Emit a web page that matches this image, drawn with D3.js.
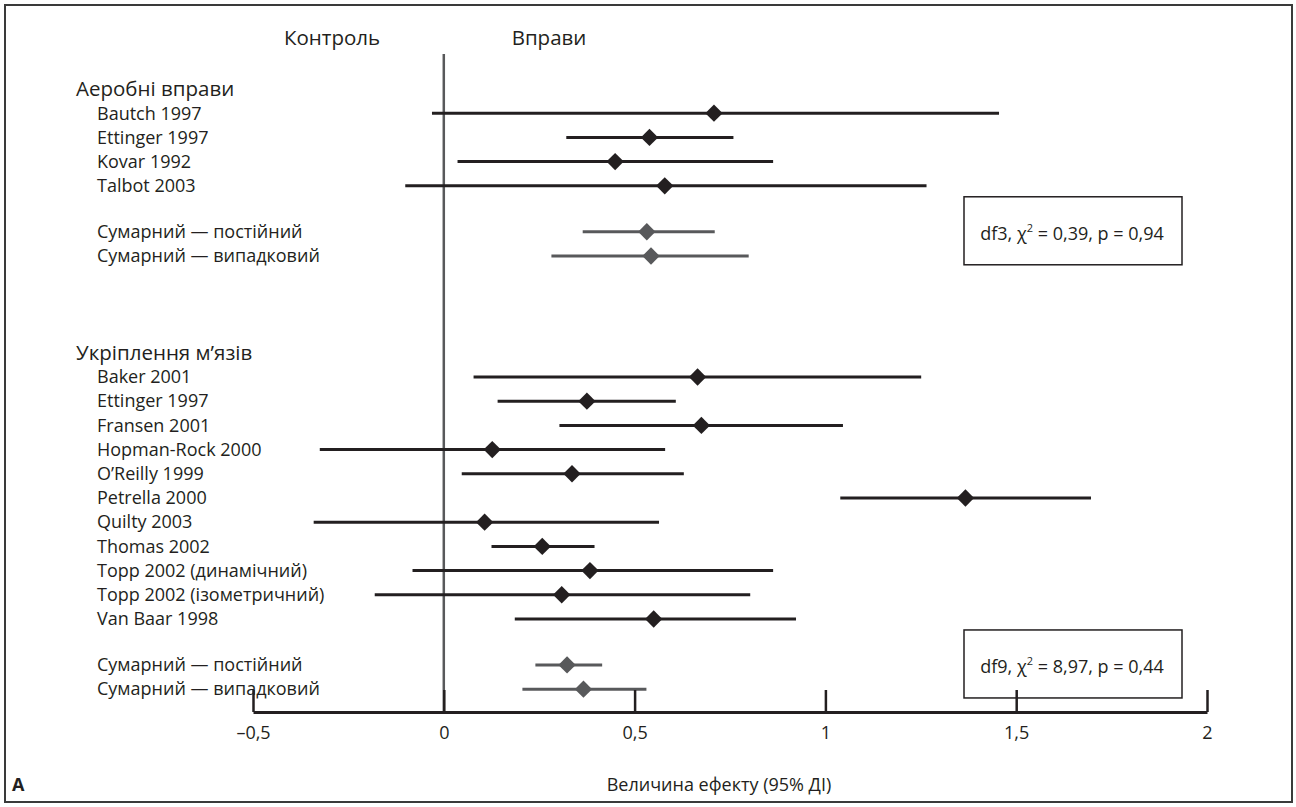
<!DOCTYPE html>
<html>
<head>
<meta charset="utf-8">
<script src="https://cdn.jsdelivr.net/npm/d3@7"></script>
<style>
  body { margin: 0; background: #fff; }
  text { font-family: "Open Sans", "Noto Sans", sans-serif; fill: #231f20; }
  .row_labels { font-size: 18px; }
  .group_labels { font-size: 20.5px; }
  .side_labels { font-size: 20.5px; text-anchor: middle; }
  .stat_labels { font-size: 18px; text-anchor: middle; }
  .axis text { font-size: 18px; font-family: "Open Sans", sans-serif; fill: #231f20; }
</style>
</head>
<body>
<svg id="svg-forest" width="1296" height="807"></svg>
<script>
var black = "#231f20";
var grey = "#58595b";

// data
var groupTitles = ["Аеробні вправи", "Укріплення м\u2019язів"];
var aerobicStudies = ["Bautch 1997", "Ettinger 1997", "Kovar 1992", "Talbot 2003"];
var aerobicEst = [0.708, 0.539, 0.449, 0.579];
var aerobicLo = [-0.031, 0.321, 0.036, -0.101];
var aerobicHi = [1.455, 0.759, 0.863, 1.265];
var strengthStudies = ["Baker 2001", "Ettinger 1997", "Fransen 2001", "Hopman-Rock 2000", "O\u2019Reilly 1999",
                       "Petrella 2000", "Quilty 2003", "Thomas 2002", "Topp 2002 (динамічний)",
                       "Topp 2002 (ізометричний)", "Van Baar 1998"];
var strengthEst = [0.665, 0.375, 0.675, 0.127, 0.336, 1.367, 0.107, 0.258, 0.383, 0.309, 0.550];
var strengthLo = [0.078, 0.141, 0.303, -0.325, 0.047, 1.039, -0.341, 0.125, -0.082, -0.181, 0.186];
var strengthHi = [1.251, 0.608, 1.046, 0.580, 0.629, 1.696, 0.564, 0.395, 0.863, 0.803, 0.923];
var pooledLabels = ["Сумарний — постійний", "Сумарний — випадковий"];
var aerobicPooledEst = [0.532, 0.543];
var aerobicPooledLo = [0.364, 0.282];
var aerobicPooledHi = [0.710, 0.799];
var strengthPooledEst = [0.323, 0.366];
var strengthPooledLo = [0.240, 0.206];
var strengthPooledHi = [0.415, 0.531];
var hetDf = ["df3", "df9"];
var hetChi = ["0,39", "8,97"];
var hetP = ["0,94", "0,44"];
var xTicks = [-0.5, 0, 0.5, 1, 1.5, 2];

var groups = [
  {title: groupTitles[0], names: aerobicStudies, est: aerobicEst, lo: aerobicLo, hi: aerobicHi,
   pEst: aerobicPooledEst, pLo: aerobicPooledLo, pHi: aerobicPooledHi},
  {title: groupTitles[1], names: strengthStudies, est: strengthEst, lo: strengthLo, hi: strengthHi,
   pEst: strengthPooledEst, pLo: strengthPooledLo, pHi: strengthPooledHi}
];

// lay rows out on a running slot counter
var headings = [], studies = [], pooled = [], statSlots = [];
var slot = 0;
groups.forEach(function(g, gi) {
  headings.push({label: g.title, slot: slot});
  g.names.forEach(function(n, i) {
    slot += 1;
    studies.push({label: n, slot: slot, est: g.est[i], lo: g.lo[i], hi: g.hi[i]});
  });
  slot += 0.9;
  statSlots.push({slot: slot + 1, df: hetDf[gi], chi: hetChi[gi], p: hetP[gi]});
  g.pEst.forEach(function(e, i) {
    slot += 1;
    pooled.push({label: pooledLabels[i], slot: slot, est: e, lo: g.pLo[i], hi: g.pHi[i]});
  });
  slot += 4;
});
var lastSlot = slot - 4;

var svg = d3.select("#svg-forest");
var xScale = d3.scaleLinear().domain([-0.5, 2]).range([253, 1207]);
var yScale = d3.scaleLinear().domain([0, lastSlot]).range([89, 89 + lastSlot * 24.2]);
var axisY = 712;
var diamond = d3.symbol().type(d3.symbolSquare).size(150);

// outer frame
svg.append("rect")
    .attr("x", 5).attr("y", 5)
    .attr("width", 1287).attr("height", 797)
    .style("fill", "none")
    .style("stroke", "#3a3a3a")
    .style("stroke-width", 2);

// zero line
svg.append("line")
    .attr("x1", xScale(0)).attr("x2", xScale(0))
    .attr("y1", 54).attr("y2", axisY)
    .style("stroke", grey)
    .style("stroke-width", 2.5);

svg.append("text").attr("class", "side_labels")
    .attr("x", 332).attr("y", 45).text("Контроль");
svg.append("text").attr("class", "side_labels")
    .attr("x", 549).attr("y", 45).text("Вправи");

svg.selectAll("group_labels")
    .data(headings)
    .enter()
    .append("text")
    .attr("class", "group_labels")
    .attr("x", 76)
    .attr("y", function(d) { return yScale(d.slot); })
    .attr("dy", "0.35em")
    .text(function(d) { return d.label; });

svg.selectAll("row_labels")
    .data(studies.concat(pooled))
    .enter()
    .append("text")
    .attr("class", "row_labels")
    .attr("x", 97)
    .attr("y", function(d) { return yScale(d.slot); })
    .attr("dy", "0.35em")
    .text(function(d) { return d.label; });

function drawCI(data, colour, cls) {
  svg.selectAll(cls + "_lines")
      .data(data)
      .enter()
      .append("line")
      .attr("x1", function(d) { return xScale(d.lo); })
      .attr("x2", function(d) { return xScale(d.hi); })
      .attr("y1", function(d) { return yScale(d.slot); })
      .attr("y2", function(d) { return yScale(d.slot); })
      .style("stroke", colour)
      .style("stroke-width", 3);
  svg.selectAll(cls + "_dots")
      .data(data)
      .enter()
      .append("path")
      .attr("d", diamond)
      .attr("transform", function(d) {
        return "translate(" + xScale(d.est) + "," + yScale(d.slot) + ") rotate(45)";
      })
      .style("fill", colour);
}
drawCI(studies, black, "study");
drawCI(pooled, grey, "pooled");

// heterogeneity boxes, centred on the first pooled row
svg.selectAll("stat_boxes")
    .data(statSlots)
    .enter()
    .append("rect")
    .attr("x", 964)
    .attr("y", function(d) { return yScale(d.slot) - 35; })
    .attr("width", 218)
    .attr("height", 68)
    .style("fill", "none")
    .style("stroke", black)
    .style("stroke-width", 1.5);
var stat = svg.selectAll("stat_labels")
    .data(statSlots)
    .enter()
    .append("text")
    .attr("class", "stat_labels")
    .attr("x", 1072)
    .attr("y", function(d) { return yScale(d.slot) + 8; });
stat.append("tspan").text(function(d) { return d.df + ", \u03c7"; });
stat.append("tspan").attr("dy", -8).style("font-size", "11px").text("2");
stat.append("tspan").attr("dy", 8).text(function(d) { return " = " + d.chi + ", p = " + d.p; });

// x axis with upward ticks
var xAxis = d3.axisBottom(xScale)
    .tickValues(xTicks)
    .tickSizeInner(-22)
    .tickSizeOuter(0)
    .tickPadding(14)
    .tickFormat(function(d) { return String(d).replace(".", ",").replace("-", "\u2013"); });
var gAxis = svg.append("g")
    .attr("class", "axis")
    .attr("transform", "translate(0," + axisY + ")")
    .call(xAxis);
gAxis.select(".domain").style("stroke", black).style("stroke-width", 3);
gAxis.selectAll(".tick line").style("stroke", black).style("stroke-width", 2.5);

svg.append("text")
    .attr("x", 719)
    .attr("y", 791)
    .style("text-anchor", "middle")
    .style("font-size", "18px")
    .text("Величина ефекту (95% ДІ)");
svg.append("text")
    .attr("x", 12)
    .attr("y", 791)
    .style("font-size", "18px")
    .style("font-weight", "bold")
    .text("A");
</script>
</body>
</html>
